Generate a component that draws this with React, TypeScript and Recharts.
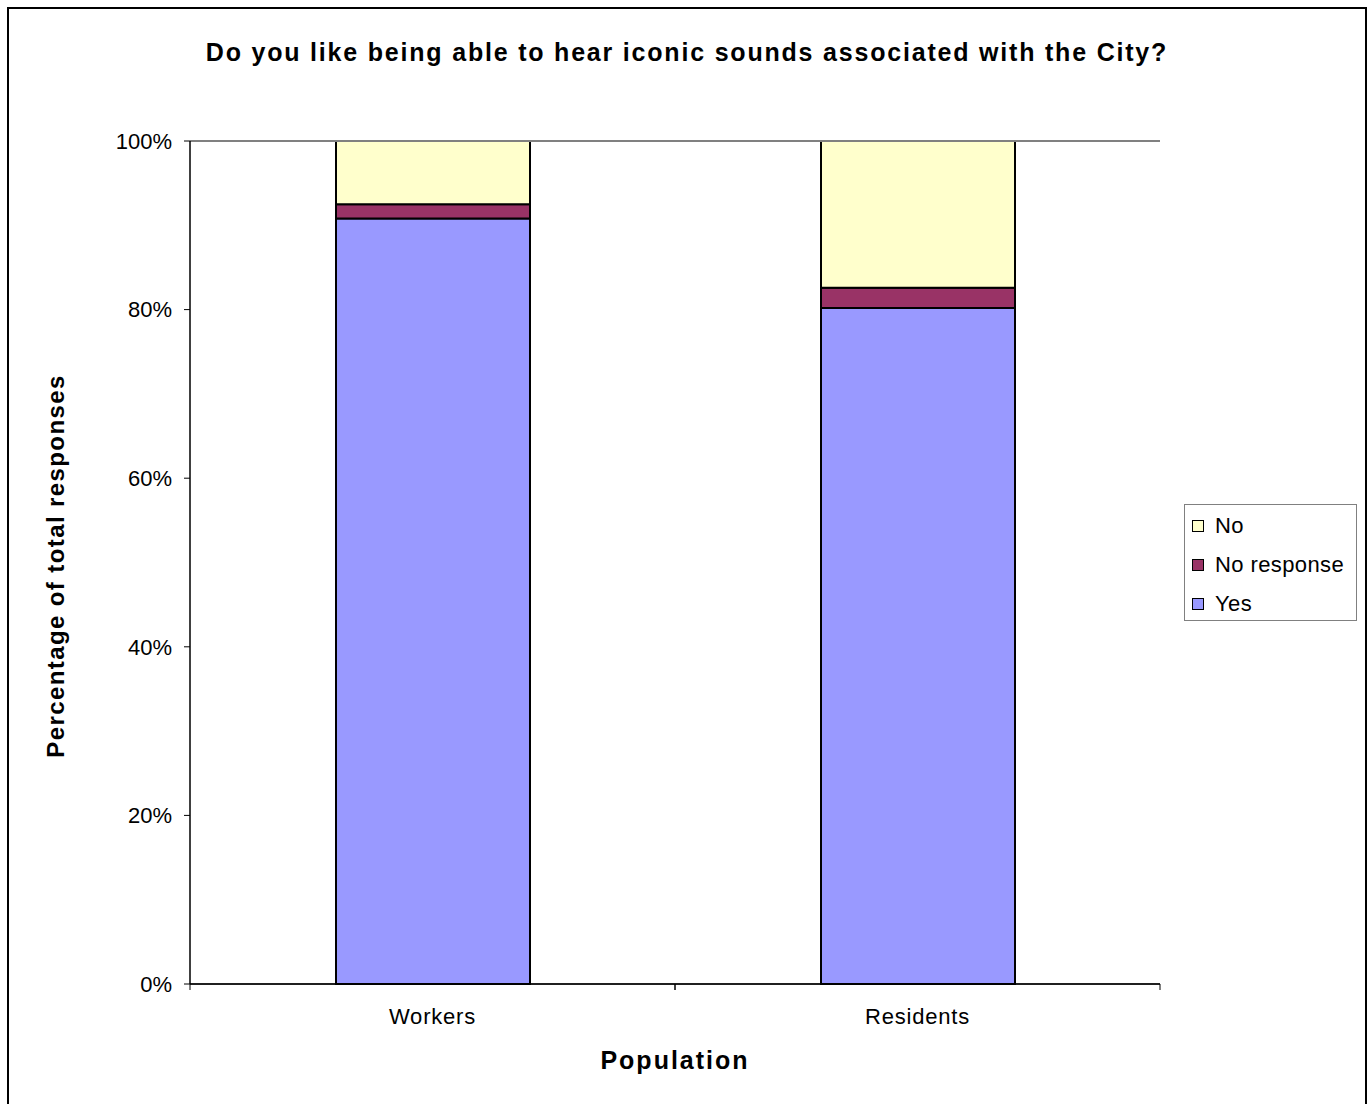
import { BarChart, Bar, XAxis, YAxis, CartesianGrid, ReferenceLine } from 'recharts';

const categories = ['Workers', 'Residents'];
const yesValues = [90.8, 80.2];
const noResponseValues = [1.7, 2.4];
const noValues = [7.5, 17.4];
const yTicks = [0, 20, 40, 60, 80, 100];

const seriesDefs = [
  { key: 'yes', name: 'Yes', color: '#9999FF' },
  { key: 'noResponse', name: 'No response', color: '#993366' },
  { key: 'no', name: 'No', color: '#FFFFCC' },
];

const data = categories.map((name, i) => ({
  name,
  yes: yesValues[i],
  noResponse: noResponseValues[i],
  no: noValues[i],
}));

const FONT = '"Liberation Sans", Arial, sans-serif';

// category label plus Excel-style tick marks on the band edges
const CategoryTick = (props: any) => {
  const { x, y, payload, width, visibleTicksCount } = props;
  const band = width / (visibleTicksCount || categories.length);
  return (
    <g>
      <line x1={x - band / 2} x2={x - band / 2} y1={y} y2={y + 6} stroke="#000" />
      <line x1={x + band / 2} x2={x + band / 2} y1={y} y2={y + 6} stroke="#000" />
      <text x={x} y={y + 40} textAnchor="middle" fill="#000" fontSize={22} letterSpacing={0.8}>
        {payload.value}
      </text>
    </g>
  );
};

const ChartLegend = () => (
  <div
    style={{
      position: 'absolute',
      left: 1184,
      top: 504,
      width: 173,
      height: 117,
      boxSizing: 'border-box',
      border: '1px solid #808080',
      background: '#fff',
      fontFamily: FONT,
      fontSize: 22,
      letterSpacing: 0.4,
    }}
  >
    {[...seriesDefs].reverse().map((s, i) => (
      <div
        key={s.key}
        style={{ position: 'absolute', left: 7, top: 8 + i * 39, height: 26, display: 'flex', alignItems: 'center' }}
      >
        <span
          style={{
            display: 'inline-block',
            width: 10,
            height: 10,
            border: '1.5px solid #000',
            background: s.color,
            marginRight: 11,
          }}
        />
        <span>{s.name}</span>
      </div>
    ))}
  </div>
);

export default function App() {
  return (
    <div style={{ position: 'fixed', left: 0, top: 0, width: 1370, height: 1104, overflow: 'hidden', background: '#fff' }}>
      <div
        style={{
          position: 'absolute',
          left: 7,
          top: 7,
          width: 1360,
          height: 1130,
          boxSizing: 'border-box',
          border: '2.5px solid #000',
        }}
      />
      <div
        style={{
          position: 'absolute',
          left: 0,
          width: 1370,
          top: 38,
          textAlign: 'center',
          fontFamily: FONT,
          fontWeight: 'bold',
          fontSize: 25,
          letterSpacing: 1.8,
          paddingLeft: 4,
          boxSizing: 'border-box',
        }}
      >
        Do you like being able to hear iconic sounds associated with the City?
      </div>
      <div
        style={{
          position: 'absolute',
          left: 190,
          width: 970,
          top: 1046,
          textAlign: 'center',
          fontFamily: FONT,
          fontWeight: 'bold',
          fontSize: 25,
          letterSpacing: 2,
        }}
      >
        Population
      </div>
      <div
        style={{
          position: 'absolute',
          left: 56,
          top: 566,
          transform: 'translate(-50%, -50%) rotate(-90deg)',
          whiteSpace: 'nowrap',
          fontFamily: FONT,
          fontWeight: 'bold',
          fontSize: 24,
          letterSpacing: 1.4,
        }}
      >
        Percentage of total responses
      </div>
      <div style={{ position: 'absolute', left: 0, top: 0 }}>
        <BarChart
          width={1370}
          height={1104}
          data={data}
          margin={{ top: 141, right: 210, left: 110, bottom: 80 }}
          barSize={194}
          style={{ fontFamily: FONT }}
        >
          <CartesianGrid vertical={false} horizontal stroke="#000" strokeWidth={1} />
          <XAxis
            xAxisId="cat"
            dataKey="name"
            height={40}
            axisLine={{ stroke: '#000', strokeWidth: 1.5 }}
            tickLine={false}
            tickSize={0}
            tickMargin={0}
            interval={0}
            tick={<CategoryTick />}
          />
          <YAxis
            yAxisId="left"
            domain={[0, 100]}
            ticks={yTicks}
            width={80}
            axisLine={{ stroke: '#000', strokeWidth: 1.5 }}
            tickLine={{ stroke: '#000' }}
            tickSize={6}
            tickMargin={12}
            tick={{ fill: '#000', fontSize: 22 }}
            tickFormatter={(v: number) => `${v}%`}
          />
          <YAxis
            yAxisId="right"
            orientation="right"
            domain={[0, 100]}
            width={0}
            tick={false}
            tickLine={false}
            axisLine={{ stroke: '#808080', strokeWidth: 2 }}
          />
          <ReferenceLine yAxisId="left" xAxisId="cat" y={100} stroke="#808080" strokeWidth={2} />
          {seriesDefs.map((s) => (
            <Bar
              key={s.key}
              xAxisId="cat"
              yAxisId="left"
              dataKey={s.key}
              name={s.name}
              stackId="a"
              fill={s.color}
              stroke="#000"
              strokeWidth={2}
              isAnimationActive={false}
            />
          ))}
        </BarChart>
      </div>
      <ChartLegend />
    </div>
  );
}
